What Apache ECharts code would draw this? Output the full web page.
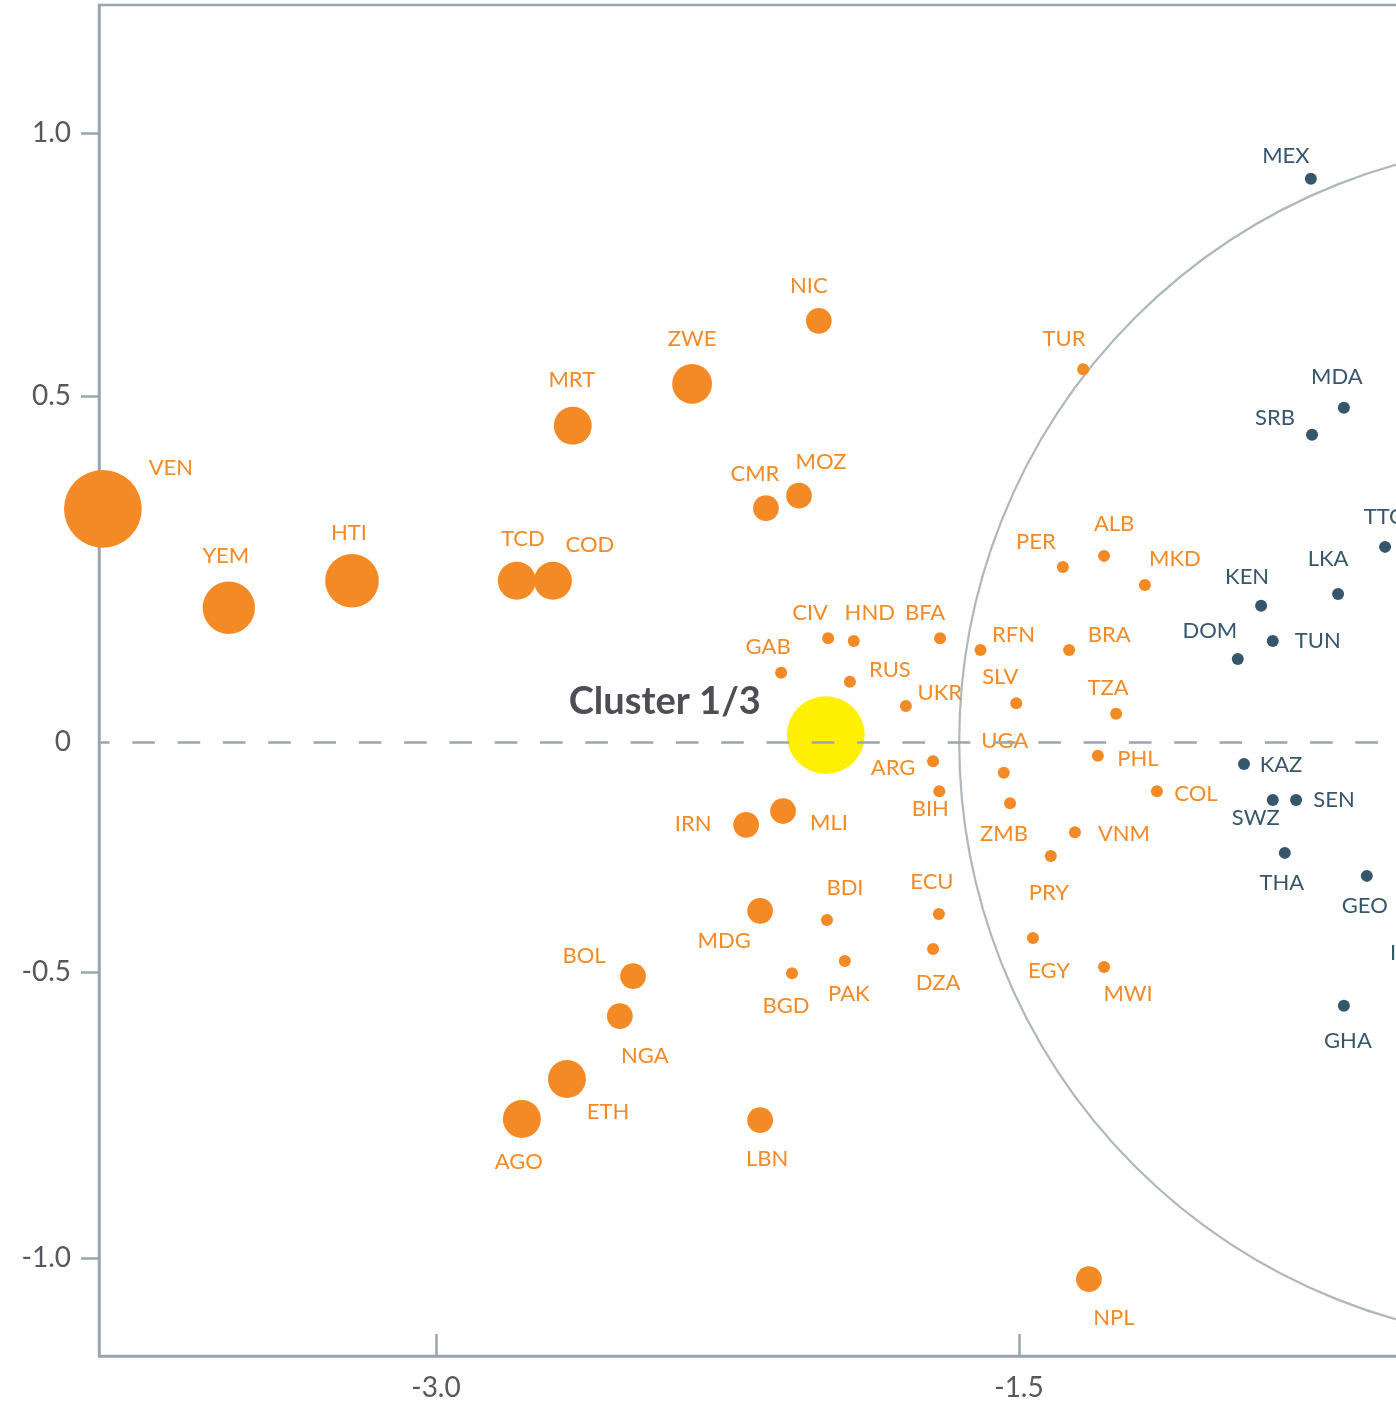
<!DOCTYPE html>
<html>
<head>
<meta charset="utf-8">
<script src="https://cdn.jsdelivr.net/npm/echarts@6/dist/echarts.min.js"></script>
<style>
  html, body { margin: 0; padding: 0; background: #ffffff; }
  #chart { width: 1396px; height: 1407px; }
</style>
</head>
<body>
<div id="chart"></div>
<script>
// ---- axis ticks ----
const X_TICKS = [-3.0, -1.5];
const X_TICK_LABELS = ['-3.0', '-1.5'];
const Y_TICKS = [-1.0, -0.5, 0, 0.5, 1.0];
const Y_TICK_LABELS = ['-1.0', '-0.5', '0', '0.5', '1.0'];

// ---- cluster 1/3 members ----
const ORANGE_CODES = ['VEN','YEM','HTI','TCD','COD','MRT','ZWE','NIC','CMR','MOZ',
  'TUR','CIV','HND','BFA','GAB','RUS','UKR','RFN','SLV','PER',
  'ALB','MKD','BRA','TZA','UGA','PHL','COL','ARG','BIH','ZMB',
  'VNM','PRY','IRN','MLI','MDG','BDI','BGD','PAK','ECU','DZA',
  'EGY','MWI','BOL','NGA','ETH','AGO','LBN','NPL'];
const ORANGE_X = [-3.857,-3.533,-3.216,-2.792,-2.699,-2.648,-2.341,-2.015,-2.151,-2.066,
  -1.335,-1.991,-1.925,-1.703,-2.112,-1.935,-1.791,-1.599,-1.507,-1.387,
  -1.281,-1.176,-1.371,-1.250,-1.539,-1.297,-1.145,-1.721,-1.705,-1.523,
  -1.356,-1.418,-2.202,-2.107,-2.166,-1.994,-2.084,-1.948,-1.706,-1.721,
  -1.464,-1.281,-2.493,-2.527,-2.663,-2.779,-2.166,-1.320];
const ORANGE_Y = [0.337,0.194,0.233,0.233,0.233,0.457,0.523,0.643,0.338,0.356,
  0.551,0.150,0.146,0.150,0.100,0.087,0.052,0.133,0.056,0.253,
  0.269,0.227,0.133,0.041,-0.067,-0.030,-0.107,-0.042,-0.107,-0.133,
  -0.196,-0.248,-0.180,-0.150,-0.367,-0.387,-0.502,-0.476,-0.374,-0.450,
  -0.426,-0.489,-0.507,-0.577,-0.687,-0.757,-0.759,-1.037];
const ORANGE_WEIGHT = [42,19,20,10,10,10,11,4.6,4.6,4.6,
  1,1,1,1,1,1,1,1,1,1,
  1,1,1,1,1,1,1,1,1,1,
  1,1,4.6,4.6,4.6,1,1,1,1,1,
  1,1,4.6,4.6,10,10,4.6,4.6];

// ---- neighbouring cluster ----
const DARK_CODES = ['MEX','MDA','SRB','TTO','LKA','KEN','TUN','DOM','KAZ','SWZ','SEN','THA','GEO','GHA','IND'];
const DARK_X = [-0.749,-0.664,-0.746,-0.558,-0.679,-0.877,-0.847,-0.937,-0.921,-0.847,-0.787,-0.816,-0.605,-0.664,-0.494];
const DARK_Y = [0.913,0.483,0.444,0.282,0.214,0.197,0.146,0.120,-0.048,-0.126,-0.126,-0.241,-0.291,-0.559,-0.391];

// ---- centroid and boundary ring ----
const CENTROID_NAME = ['Cluster 1/3'];
const CENTROID_X = [-1.997];
const CENTROID_Y = [0.010];
const CENTROID_WEIGHT = [42];
const RING_X = [-0.11];
const RING_Y = [0.0];

// ---- styling ----
const ORANGE = '#F48A25';
const DARK = '#36566B';
const YELLOW = '#FEF000';
const LINE = '#9BA5AE';
const TICK_TEXT = '#58565E';
const FONT = 'Lato, "Open Sans", sans-serif';

// vertical scale: tick values are spaced unevenly along the axis
const Y_SCALE_STOPS = [-0.8473, -0.3777, 0, 0.5681, 1.0];
function warp(v) {
  let i = 0;
  while (i < Y_TICKS.length - 2 && v > Y_TICKS[i + 1]) i++;
  const t = (v - Y_TICKS[i]) / (Y_TICKS[i + 1] - Y_TICKS[i]);
  return Y_SCALE_STOPS[i] + t * (Y_SCALE_STOPS[i + 1] - Y_SCALE_STOPS[i]);
}
function yLabel(u) {
  for (let i = 0; i < Y_TICKS.length; i++) {
    if (Math.abs(warp(Y_TICKS[i]) - u) < 1e-6) return Y_TICK_LABELS[i];
  }
  return '';
}
function xLabel(v) {
  for (let i = 0; i < X_TICKS.length; i++) {
    if (Math.abs(X_TICKS[i] - v) < 1e-6) return X_TICK_LABELS[i];
  }
  return '';
}

// label placement (centre of text relative to the marker, in px)
const LABEL_OFFSET = {
  VEN:[68,-41], YEM:[-3,-52], HTI:[-3,-48], TCD:[6,-42], COD:[37,-36], MRT:[-1,-46],
  ZWE:[0,-45], NIC:[-10,-35], CMR:[-11,-34], MOZ:[22,-34], TUR:[-19,-30], CIV:[-18,-25],
  HND:[16,-28], BFA:[-15,-25], GAB:[-13,-26], RUS:[40,-12], UKR:[34,-13], RFN:[33,-15],
  SLV:[-16,-26], PER:[-27,-25], ALB:[10,-32], MKD:[30,-26], BRA:[40,-15], TZA:[-8,-26],
  UGA:[1,-32], PHL:[40,3], COL:[39,3], ARG:[-40,7], BIH:[-9,18], ZMB:[-6,31],
  VNM:[49,2], PRY:[-2,37], IRN:[-53,-1], MLI:[46,12], MDG:[-36,30], BDI:[18,-32],
  BGD:[-6,33], PAK:[4,33], ECU:[-7,-32], DZA:[5,34], EGY:[16,33], MWI:[24,27],
  BOL:[-49,-20], NGA:[25,40], ETH:[41,33], AGO:[-3,43], LBN:[7,39], NPL:[25,39],
  MEX:[-25,-23], MDA:[-7,-31], SRB:[-37,-17], TTO:[0,-30], LKA:[-10,-35], KEN:[-14,-29],
  TUN:[45,0], DOM:[-28,-28], KAZ:[37,1], SWZ:[-17,18], SEN:[38,0], THA:[-3,30],
  GEO:[-2,30], GHA:[4,35], IND:[0,31], 'Cluster 1/3':[-161,-33]
};

const sizeOf = (w) => 12 * Math.sqrt(w);

const orangeData = ORANGE_CODES.map((c, i) => ({
  name: c,
  value: [ORANGE_X[i], warp(ORANGE_Y[i]), ORANGE_WEIGHT[i]],
  label: { offset: LABEL_OFFSET[c] }
}));
const darkData = DARK_CODES.map((c, i) => ({
  name: c,
  value: [DARK_X[i], warp(DARK_Y[i]), 1],
  label: { offset: LABEL_OFFSET[c] }
}));
const centroidData = CENTROID_NAME.map((c, i) => ({
  name: c,
  value: [CENTROID_X[i], warp(CENTROID_Y[i]), CENTROID_WEIGHT[i]],
  label: { offset: LABEL_OFFSET[c] }
}));

const X_MIN = -3.867, X_MAX = 0.2;
const Y_MIN = -1.0082, Y_MAX = 1.2102;

const chart = echarts.init(document.getElementById('chart'), null, { renderer: 'canvas' });
chart.setOption({
  animation: false,
  backgroundColor: '#ffffff',
  grid: {
    left: 99, top: 5, width: 1580.7, height: 1351,
    containLabel: false, outerBoundsMode: 'none',
    show: true, borderColor: LINE, borderWidth: 2.5, backgroundColor: 'transparent'
  },
  xAxis: [{
    type: 'value', min: X_MIN, max: X_MAX,
    axisLine: { show: true, onZero: false, lineStyle: { color: LINE, width: 2.5 } },
    axisTick: { show: true, inside: true, length: 22, customValues: X_TICKS, lineStyle: { color: LINE, width: 2.5 } },
    axisLabel: { show: true, customValues: X_TICKS, formatter: xLabel, margin: 18,
      color: TICK_TEXT, fontFamily: FONT, fontSize: 28 },
    splitLine: { show: false }
  }],
  yAxis: [{
    type: 'value', min: Y_MIN, max: Y_MAX,
    axisLine: { show: true, onZero: false, lineStyle: { color: LINE, width: 2.5 } },
    axisTick: { show: true, inside: false, length: 18,
      customValues: Y_TICKS.filter(v => v !== 0).map(warp), lineStyle: { color: LINE, width: 2.5 } },
    axisLabel: { show: true, customValues: Y_TICKS.map(warp), formatter: yLabel, margin: 28,
      color: TICK_TEXT, fontFamily: FONT, fontSize: 28 },
    splitLine: { show: false }
  }, {
    type: 'value', min: Y_MIN, max: Y_MAX, position: 'left',
    axisLine: { show: false },
    axisTick: { show: true, inside: true, length: 8,
      customValues: Y_TICKS.filter(v => v !== 0).map(warp), lineStyle: { color: LINE, width: 2.5 } },
    axisLabel: { show: false },
    splitLine: { show: false }
  }],
  series: [{
    // boundary ring of the neighbouring cluster + zero reference line
    type: 'scatter', silent: true, z: 1,
    data: RING_X.map((x, i) => [x, warp(RING_Y[i])]),
    symbol: 'circle', symbolSize: 1200,
    itemStyle: { color: 'rgba(0,0,0,0)', borderColor: LINE, borderWidth: 2.2 },
    label: { show: false },
    markLine: {
      silent: true, symbol: ['none', 'none'],
      label: { show: false },
      lineStyle: { color: LINE, width: 2.5, type: [22.6, 22.7], dashOffset: 12 },
      data: [{ yAxis: warp(0) }]
    }
  }, {
    name: 'Cluster 1/3', type: 'scatter', z: 3, silent: true,
    data: orangeData,
    symbolSize: (v) => sizeOf(v[2]),
    itemStyle: { color: ORANGE, opacity: 1 },
    label: { show: true, position: 'inside', formatter: '{b}', color: ORANGE,
      fontFamily: FONT, fontSize: 22 }
  }, {
    name: 'Other', type: 'scatter', z: 3, silent: true,
    data: darkData,
    symbolSize: (v) => sizeOf(v[2]),
    itemStyle: { color: DARK, opacity: 1 },
    label: { show: true, position: 'inside', formatter: '{b}', color: DARK,
      fontFamily: FONT, fontSize: 22 }
  }, {
    name: 'Centroid', type: 'scatter', z: 4, silent: true,
    data: centroidData,
    symbolSize: (v) => sizeOf(v[2]),
    itemStyle: { color: YELLOW, opacity: 1 },
    label: { show: true, position: 'inside', formatter: '{b}', color: '#4E4D55',
      fontFamily: FONT, fontSize: 38, fontWeight: 'bold' }
  }]
});
</script>
</body>
</html>
